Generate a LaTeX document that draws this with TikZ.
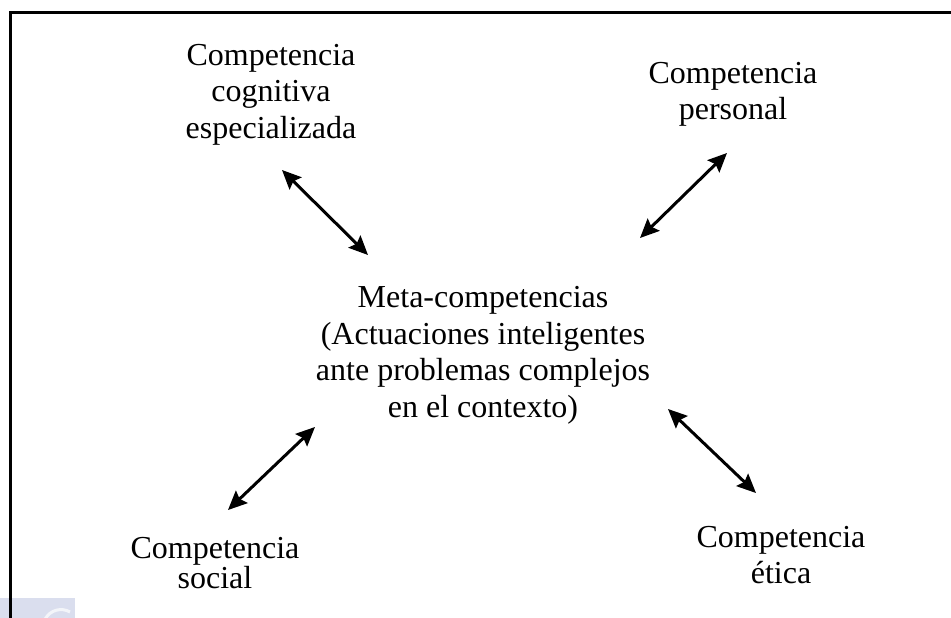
\documentclass[tikz,border=0pt]{standalone}
\usepackage{fontspec}
\setmainfont{Liberation Serif}
\usetikzlibrary{arrows.meta}
\definecolor{wmark}{RGB}{218,222,238}
\tikzset{
  lbl/.style={anchor=base, align=center, inner sep=0pt, font=\fontsize{32}{36.5}\selectfont},
  dbl/.style={line width=3pt, {Stealth[length=19pt,width=17pt,inset=3pt]}-{Stealth[length=19pt,width=17pt,inset=3pt]}},
  frame/.style={line width=3pt, line cap=butt}
}
\begin{document}
\begin{tikzpicture}[x=1pt,y=-1pt]
\useasboundingbox (0,0) rectangle (951,618);
% watermark fragment
\fill[wmark] (0,598) rectangle (75,618);
\draw[white, line width=3pt, opacity=0.7] (70,612) arc[start angle=60, end angle=180, radius=18pt];
% frame
\draw[frame] (10,618) -- (10,13) -- (951,13);
% texts (anchor = baseline of last line)
\node[lbl] (cog) at (271,138) {Competencia\\cognitiva\\especializada};
\node[lbl] (per) at (733,120) {Competencia\\personal};
\node[lbl] (meta) at (483,417) {Meta-competencias\\(Actuaciones inteligentes\\ante problemas complejos\\en el contexto)};
\node[lbl, font=\fontsize{32}{29.5}\selectfont] (soc) at (215,588) {Competencia\\social};
\node[lbl, font=\fontsize{32}{36}\selectfont] (eti) at (781,583) {Competencia\\ética};
% arrow ends
\coordinate (a1) at (282,170); \coordinate (b1) at (368,255);
\coordinate (a2) at (727,153); \coordinate (b2) at (640,238);
\coordinate (a3) at (315,427); \coordinate (b3) at (228,510);
\coordinate (a4) at (668,409); \coordinate (b4) at (756,493);
\draw[dbl] (a1) -- (b1);
\draw[dbl] (a2) -- (b2);
\draw[dbl] (a3) -- (b3);
\draw[dbl] (a4) -- (b4);
\end{tikzpicture}
\end{document}
